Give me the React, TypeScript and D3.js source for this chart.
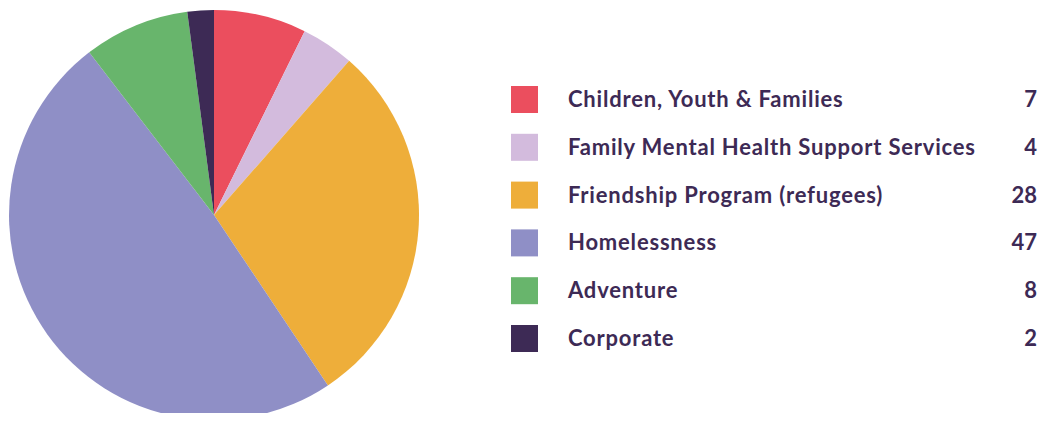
import { useEffect, useRef } from 'react';
import * as d3 from 'd3';

const categories = [
    "Children, Youth & Families",
    "Family Mental Health Support Services",
    "Friendship Program (refugees)",
    "Homelessness",
    "Adventure",
    "Corporate",
];
const values = [7, 4, 28, 47, 8, 2];
const colors = ["#eb4e5e", "#d3bbdd", "#eeae3a", "#8f8fc6", "#68b56c", "#3d2a55"];

const W = 1050, H = 421;

const App = () => {
    const ref = useRef<SVGSVGElement>(null);

    useEffect(() => {
        const svg = d3.select(ref.current);
        svg.selectAll("*").remove();

        const cx = 214, cy = 215, r = 205;
        const pie = d3.pie<number>().sort(null).value((d) => d);
        const arc = d3.arc<d3.PieArcDatum<number>>().innerRadius(0).outerRadius(r);

        svg.append("g")
            .attr("transform", "translate(" + cx + "," + cy + ")")
            .selectAll("path")
            .data(pie(values))
            .join("path")
            .attr("d", arc)
            .attr("fill", (_, i) => colors[i]);

        // legend
        const y = d3.scalePoint<number>()
            .domain(d3.range(categories.length))
            .range([99.5, 338.5]);
        const textColor = "#3d2a55";

        const rows = svg.append("g")
            .selectAll("g")
            .data(categories)
            .join("g")
            .attr("transform", (_, i) => "translate(0," + y(i) + ")");

        rows.append("rect")
            .attr("x", 511)
            .attr("y", -13.5)
            .attr("width", 27)
            .attr("height", 27)
            .attr("fill", (_, i) => colors[i]);

        rows.append("text")
            .attr("x", 568)
            .attr("y", 7.5)
            .style("font-family", "Lato, sans-serif")
            .style("font-weight", "700")
            .style("font-size", "22px")
            .style("letter-spacing", "0.8px")
            .attr("fill", textColor)
            .text((d) => d);

        rows.append("text")
            .attr("x", 1037)
            .attr("y", 7.5)
            .attr("text-anchor", "end")
            .style("font-family", "Lato, sans-serif")
            .style("font-weight", "700")
            .style("font-size", "22px")
            .attr("fill", textColor)
            .text((_, i) => values[i]);
    }, []);

    return (
        <svg ref={ref} width={W} height={H} style={{ display: "block", margin: "-8px" }} />
    );
};

export default App;
